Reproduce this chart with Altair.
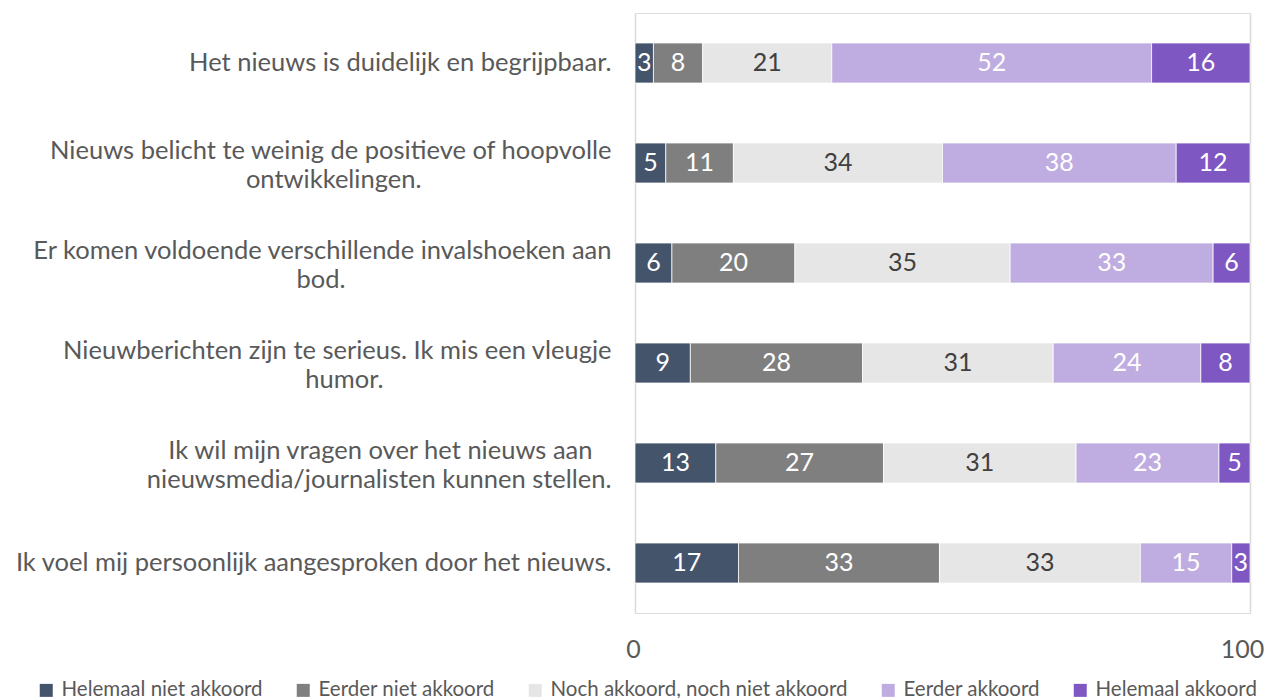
import altair as alt
import pandas as pd

# Question labels (lines of each label)
question_lines = [
    ["Het nieuws is duidelijk en begrijpbaar."],
    ["Nieuws belicht te weinig de positieve of hoopvolle", "ontwikkelingen."],
    ["Er komen voldoende verschillende invalshoeken aan", "bod."],
    ["Nieuwberichten zijn te serieus. Ik mis een vleugje", "humor."],
    ["Ik wil mijn vragen over het nieuws aan", "nieuwsmedia/journalisten kunnen stellen."],
    ["Ik voel mij persoonlijk aangesproken door het nieuws."],
]

series = [
    "Helemaal niet akkoord",
    "Eerder niet akkoord",
    "Noch akkoord, noch niet akkoord",
    "Eerder akkoord",
    "Helemaal akkoord",
]
colors = ["#44546A", "#7F7F7F", "#E7E6E6", "#BFACE0", "#7E57C2"]

helemaal_niet = [3, 5, 6, 9, 13, 17]
eerder_niet = [8, 11, 20, 28, 27, 33]
noch = [21, 34, 35, 31, 31, 33]
eerder = [52, 38, 33, 24, 23, 15]
helemaal = [16, 12, 6, 8, 5, 3]

values = [helemaal_niet, eerder_niet, noch, eerder, helemaal]

# layout only: blank padding (in blank glyphs) that centres the shorter
# line of a two-line label under the longer one, as in the original
PAD = "\u2800"
pad_counts = [0, 10, 14, 12, 1, 0]


def make_label(lines, n):
    if len(lines) == 1:
        return lines[0]
    l1, l2 = lines
    if len(l2) < len(l1):
        l2 = l2 + PAD * n
    else:
        l1 = l1 + PAD * n
    return l1 + "|" + l2


questions = [make_label(l, n) for l, n in zip(question_lines, pad_counts)]

rows = []
for si, (s, vals) in enumerate(zip(series, values)):
    for qi, q in enumerate(questions):
        rows.append({"q": q, "series": s, "order": si, "value": vals[qi]})
df = pd.DataFrame(rows)

FONT = "Lato"

base = alt.Chart(df).transform_stack(
    stack="value",
    groupby=["q"],
    sort=[alt.SortField("order", order="ascending")],
    as_=["x0", "x1"],
    offset="normalize",
).transform_calculate(mid="(datum.x0 + datum.x1) / 2")

y_enc = alt.Y(
    "q:N",
    sort=questions,
    scale=alt.Scale(paddingInner=0.6, paddingOuter=0.3),
    axis=alt.Axis(
        title=None,
        domain=False,
        ticks=False,
        labelExpr="split(datum.label, '|')",
        labelFontSize=25.5,
        labelColor="#595959",
        labelPadding=24,
        labelLimit=0,
        labelLineHeight=29,
        labelFont=FONT,
        labelOffset={
            "condition": {"test": "indexof(datum.value, '|') >= 0", "value": -12},
            "value": 0,
        },
    ),
)

bars = base.mark_bar(stroke="white", strokeWidth=0.75).encode(
    y=y_enc,
    x=alt.X(
        "x0:Q",
        scale=alt.Scale(domain=[0, 1], nice=False),
        axis=alt.Axis(
            title=None,
            values=[0, 1],
            labelExpr="format(datum.value * 100, 'd')",
            domain=False,
            ticks=False,
            grid=True,
            gridColor="#D9D9D9",
            gridWidth=1.5,
            labelFlush=False,
            labelAlign="center",
            labelOffset={
                "condition": {"test": "datum.value == 1", "value": -8},
                "value": -2,
            },
            labelOverlap=False,
            labelPadding=24,
            labelFontSize=25,
            labelColor="#595959",
            labelFont=FONT,
        ),
    ),
    x2="x1:Q",
    color=alt.Color(
        "series:N",
        scale=alt.Scale(domain=series, range=colors),
        legend=alt.Legend(
            title=None,
            orient="none",
            direction="horizontal",
            columns=5,
            legendX=-599,
            legendY=667,
            symbolType="square",
            symbolSize=169,
            symbolStrokeWidth=0,
            labelFontSize=20.5,
            labelColor="#595959",
            labelFont=FONT,
            labelLimit=0,
            columnPadding=30,
            labelOffset=5,
        ),
    ),
    order=alt.Order("order:Q"),
)

texts = base.mark_text(fontSize=25, font=FONT).encode(
    y=alt.Y("q:N", sort=questions),
    x=alt.X("mid:Q"),
    text=alt.Text("value:Q"),
    color=alt.condition(
        alt.datum.series == "Noch akkoord, noch niet akkoord",
        alt.value("#404040"),
        alt.value("white"),
    ),
)

chart = (
    alt.layer(bars, texts)
    .properties(
        width=615,
        height=600,
        autosize=alt.AutoSizeParams(type="none"),
        padding={"left": 627, "top": 5, "right": 15, "bottom": 88},
    )
    .configure_view(stroke=None)
    .configure(font=FONT)
)

chart.save("out.html", embed_options={"renderer": "svg", "actions": False})
